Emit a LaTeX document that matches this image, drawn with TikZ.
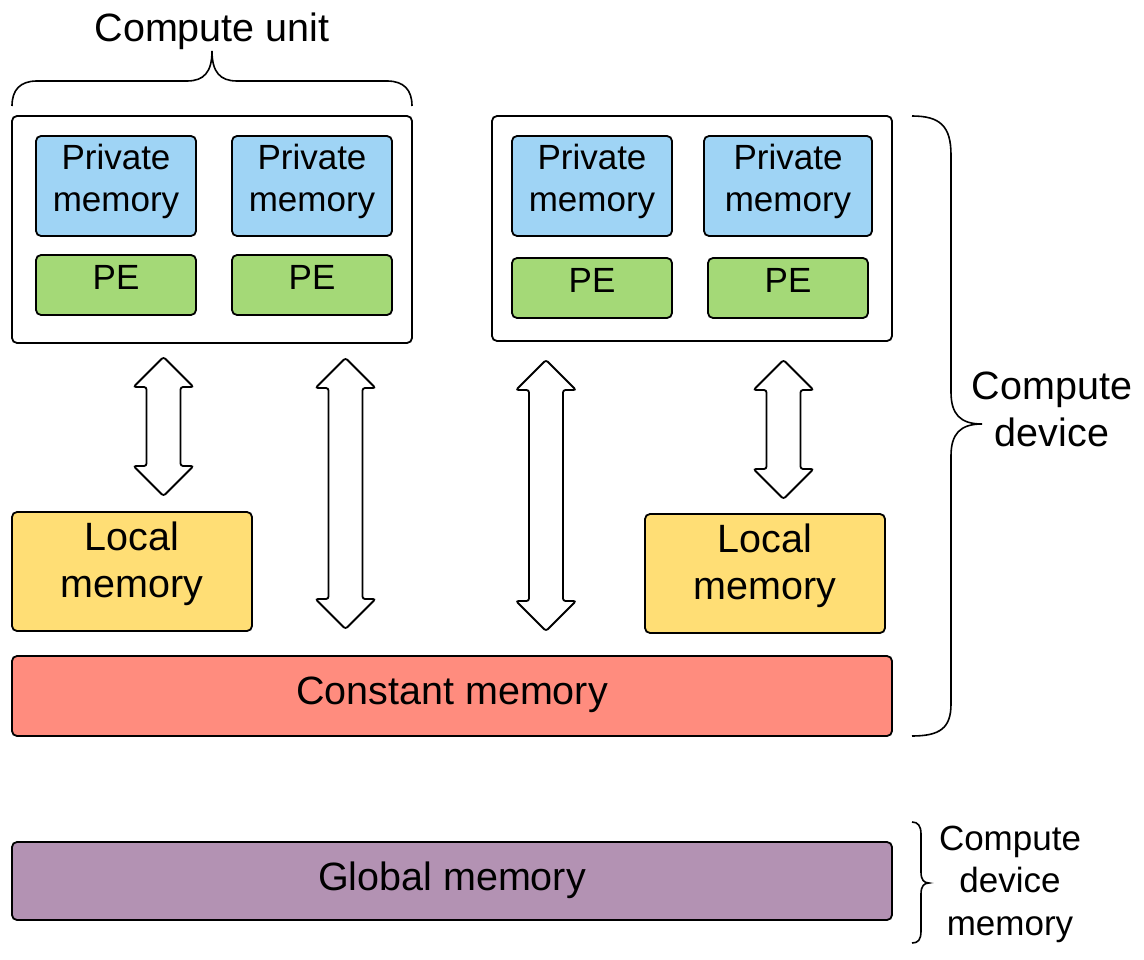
\documentclass[tikz,border=0pt]{standalone}
\usepackage{fontspec}
\setmainfont{Liberation Sans}
\usetikzlibrary{calc}
\definecolor{privc}{HTML}{9FD4F5}
\definecolor{pec}{HTML}{A4D977}
\definecolor{localc}{HTML}{FFDE75}
\definecolor{constc}{HTML}{FF8C7E}
\definecolor{globc}{HTML}{B392B3}
\newcommand\barrow[2]{%
  \draw[blockarr] (#1) -- ($(#1)+(30,30)$) -- ($(#1)+(17,30)$) -- ($(#2)+(17,-30)$) -- ($(#2)+(30,-30)$) -- (#2) -- ($(#2)+(-30,-30)$) -- ($(#2)+(-17,-30)$) -- ($(#1)+(-17,30)$) -- ($(#1)+(-30,30)$) -- cycle;}
\begin{document}
\begin{tikzpicture}[x=1pt,y=-1pt,
  box/.style={draw=black, line width=1.8pt, rounded corners=5pt, inner sep=0pt},
  bigtxt/.style={font=\fontsize{39.5}{47}\selectfont, align=center, inner sep=0pt},
  smalltxt/.style={font=\fontsize{35}{42.4}\selectfont, align=center, inner sep=0pt},
  blockarr/.style={draw=black, fill=white, line width=1.8pt, rounded corners=2.5pt},
  bracestyle/.style={draw=black, line width=1.6pt}]
\useasboundingbox (0,0) rectangle (1144,960);

% compute units
\node[box, minimum width=400, minimum height=227] (cu1) at (212,229.5) {};
\node[box, minimum width=400, minimum height=225] (cu2) at (692,228.5) {};

% private memories
\node[box, fill=privc, minimum width=160, minimum height=100] (pm1) at (116,186) {};
\node[box, fill=privc, minimum width=160, minimum height=100] (pm2) at (312,186) {};
\node[box, fill=privc, minimum width=160, minimum height=100] (pm3) at (592,186) {};
\node[box, fill=privc, minimum width=168, minimum height=100] (pm4) at (788,186) {};
\foreach \n in {pm1,pm2,pm3,pm4}
  \node[smalltxt] (\n t) at ($(\n)+(0,-4.6)$) {Private\\memory};

% processing elements
\node[box, fill=pec, minimum width=160, minimum height=60] (pe1) at (116,285) {};
\node[box, fill=pec, minimum width=160, minimum height=60] (pe2) at (312,285) {};
\node[box, fill=pec, minimum width=160, minimum height=60] (pe3) at (592,288) {};
\node[box, fill=pec, minimum width=160, minimum height=60] (pe4) at (788,288) {};
\foreach \n in {pe1,pe2,pe3,pe4}
  \node[smalltxt] (\n t) at ($(\n)+(0,-8)$) {PE};

% local memories
\node[box, fill=localc, minimum width=240, minimum height=119] (lm1) at (132,571.5) {};
\node[box, fill=localc, minimum width=240, minimum height=119] (lm2) at (765,573.5) {};
\foreach \n in {lm1,lm2}
  \node[bigtxt] (\n t) at ($(\n)+(0,-8)$) {Local\\memory};

% constant and global memory
\node[box, fill=constc, minimum width=880, minimum height=80] (cm) at (452,696) {};
\node[bigtxt] (cmt) at ($(cm)+(0,-1)$) {Constant memory};
\node[box, fill=globc, minimum width=880, minimum height=78] (gm) at (452,881) {};
\node[bigtxt] (gmt) at ($(gm)+(0,-1)$) {Global memory};

% block arrows
\coordinate (a1t) at (163.5,357);
\coordinate (a1b) at (163.5,496);
\coordinate (a2t) at (345.5,358);
\coordinate (a2b) at (345.5,629);
\coordinate (a3t) at (546,360);
\coordinate (a3b) at (546,631);
\coordinate (a4t) at (783.5,360);
\coordinate (a4b) at (783.5,499);
\barrow{a1t}{a1b}
\barrow{a2t}{a2b}
\barrow{a3t}{a3b}
\barrow{a4t}{a4b}

% top brace: compute unit
\draw[bracestyle] (12,106) .. controls (12,90) and (20,81) .. (37,81) -- (187,81)
  .. controls (204,81) and (212,72) .. (212,51)
  .. controls (212,72) and (220,81) .. (237,81) -- (387,81)
  .. controls (404,81) and (412,90) .. (412,106);
\node[bigtxt, anchor=base] (cut) at (212,41.7) {Compute unit};

% right brace: compute device
\draw[bracestyle] (912,116) .. controls (940,116) and (951,126) .. (951,155) -- (951,392)
  .. controls (951,414) and (960,424) .. (982,424)
  .. controls (960,424) and (951,434) .. (951,456) -- (951,704)
  .. controls (951,728) and (940,736) .. (912,736);
\node[bigtxt, anchor=base] (cdt) at (1052,446) {Compute\\device};

% small brace: compute device memory
\draw[bracestyle] (912,822) .. controls (918,822) and (921,826) .. (921,834) -- (921,872)
  .. controls (921,880) and (924,883) .. (929,883)
  .. controls (924,883) and (921,886) .. (921,894) -- (921,931)
  .. controls (921,940) and (918,943) .. (912,943);
\node[smalltxt, anchor=base] (cdmt) at (1010,935) {Compute\\device\\memory};
\end{tikzpicture}
\end{document}
